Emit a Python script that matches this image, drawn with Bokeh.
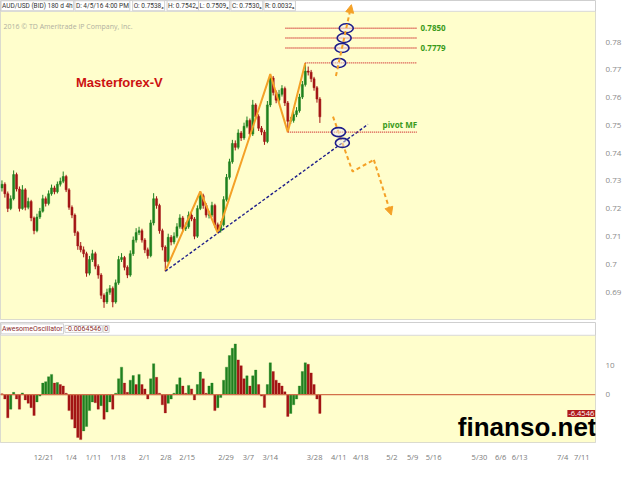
import numpy as np
from bokeh.plotting import figure
from bokeh.layouts import column
from bokeh.models import (ColumnDataSource, Range1d, FixedTicker, NumeralTickFormatter,
                          Span, Label, BoxAnnotation, Arrow, NormalHead)
from bokeh.embed import file_html
from bokeh.resources import INLINE

# ---------------- data ----------------
first_open = 0.7275
closes = [0.7288,0.7254,0.7201,0.7236,0.7323,0.7271,0.7201,0.7268,0.7205,0.7226,
          0.7167,0.7121,0.7170,0.7191,0.7236,0.7219,0.7254,0.7275,0.7261,0.7288,
          0.7299,0.7316,0.7268,0.7205,0.7177,0.7114,0.7066,0.7052,0.7038,0.6968,
          0.7017,0.7038,0.6993,0.6961,0.6888,0.6864,0.6899,0.6913,0.6864,0.6933,
          0.7017,0.7024,0.6989,0.6961,0.7038,0.7087,0.7114,0.7121,0.7087,0.7052,
          0.7031,0.7149,0.7236,0.7212,0.7121,0.7062,0.7010,0.7097,0.7080,0.7101,
          0.7135,0.7167,0.7128,0.7135,0.7177,0.7163,0.7101,0.7201,0.7247,0.7212,
          0.7177,0.7177,0.7212,0.7142,0.7121,0.7142,0.7233,0.7313,0.7369,0.7435,
          0.7421,0.7473,0.7455,0.7497,0.7518,0.7469,0.7574,0.7532,0.7490,0.7476,
          0.7442,0.7574,0.7671,0.7619,0.7591,0.7612,0.7633,0.7581,0.7515,0.7518,
          0.7539,0.7553,0.7602,0.7647,0.7696,0.7692,0.7668,0.7636,0.7595,0.7531]
highs = [0.7302,0.7295,0.7262,0.7248,0.7338,0.7330,0.7280,0.7285,0.7274,0.7240,
         0.7232,0.7172,0.7182,0.7203,0.7250,0.7244,0.7266,0.7287,0.7283,0.7298,
         0.7312,0.7334,0.7322,0.7274,0.7212,0.7183,0.7120,0.7080,0.7064,0.7045,
         0.7030,0.7052,0.7045,0.7000,0.6968,0.6895,0.6912,0.6925,0.6920,0.6945,
         0.7030,0.7040,0.7030,0.6996,0.7050,0.7100,0.7130,0.7135,0.7128,0.7094,
         0.7060,0.7160,0.7256,0.7245,0.7218,0.7128,0.7068,0.7110,0.7105,0.7115,
         0.7148,0.7180,0.7174,0.7150,0.7190,0.7185,0.7170,0.7212,0.7262,0.7254,
         0.7220,0.7192,0.7225,0.7218,0.7150,0.7155,0.7245,0.7325,0.7380,0.7448,
         0.7446,0.7486,0.7480,0.7510,0.7532,0.7525,0.7592,0.7580,0.7540,0.7498,
         0.7484,0.7588,0.7685,0.7678,0.7626,0.7628,0.7645,0.7640,0.7588,0.7530,
         0.7550,0.7566,0.7614,0.7660,0.7725,0.7712,0.7700,0.7675,0.7642,0.7602]
lows = [0.7262,0.7240,0.7188,0.7195,0.7230,0.7262,0.7190,0.7196,0.7194,0.7198,
        0.7155,0.7108,0.7115,0.7163,0.7186,0.7208,0.7212,0.7247,0.7252,0.7255,
        0.7280,0.7292,0.7260,0.7196,0.7166,0.7102,0.7052,0.7043,0.7025,0.6955,
        0.6960,0.7008,0.6982,0.6948,0.6875,0.6843,0.6857,0.6890,0.6845,0.6858,
        0.6926,0.7008,0.6978,0.6950,0.6955,0.7030,0.7078,0.7105,0.7078,0.7040,
        0.7020,0.7025,0.7140,0.7200,0.7110,0.7050,0.6975,0.7003,0.7068,0.7072,
        0.7094,0.7128,0.7118,0.7120,0.7128,0.7155,0.7090,0.7095,0.7195,0.7200,
        0.7168,0.7165,0.7170,0.7132,0.7112,0.7114,0.7136,0.7226,0.7305,0.7362,
        0.7410,0.7414,0.7444,0.7448,0.7490,0.7460,0.7462,0.7522,0.7480,0.7465,
        0.7430,0.7436,0.7566,0.7608,0.7580,0.7584,0.7604,0.7570,0.7476,0.7505,
        0.7510,0.7530,0.7546,0.7595,0.7640,0.7680,0.7656,0.7625,0.7582,0.7509]
ao = [0.3,-1.5,-8.0,-5.0,0.8,-1.5,-5.0,0.6,-1.8,-3.0,
      -4.5,-7.2,-2.5,-0.5,4.0,4.5,6.2,7.0,4.0,4.2,
      3.5,3.0,0.5,-5.5,-8.5,-11.5,-14.8,-15.5,-12.5,-11.0,
      -5.5,-2.5,-2.8,-5.0,-3.8,-8.5,-6.0,-2.5,-5.0,0.5,
      5.5,9.5,4.0,0.8,5.0,6.6,3.5,7.0,3.5,2.0,
      -1.5,5.5,10.7,6.0,0.5,-3.5,-6.3,-3.0,-1.5,0.5,
      3.5,5.8,3.0,0.5,3.2,2.0,-1.8,3.5,7.8,5.5,
      0.5,3.0,4.0,-5.5,-4.5,-1.0,5.0,9.5,13.5,16.0,
      17.5,12.0,10.0,5.5,6.5,3.0,6.5,8.5,3.5,-0.5,
      -4.4,3.5,11.0,8.0,5.0,4.0,3.0,1.0,-7.5,-6.5,
      -3.5,-1.5,3.0,8.0,11.0,10.5,7.5,3.5,-1.5,-6.4546]

date_tick_pos = [14.3, 23.7, 31.4, 39.7, 48.8, 56.2, 63.5, 76.8, 84.5, 92.0, 107.2,
                 115.5, 123.0, 133.7, 140.8, 148.0, 163.7, 171.0, 177.5, 192.2, 198.8]
date_tick_labels = ["12/21", "1/4", "1/11", "1/18", "2/1", "2/8", "2/15", "2/29", "3/7", "3/14",
                    "3/28", "4/11", "4/18", "5/2", "5/9", "5/16", "5/30", "6/6", "6/13", "7/4", "7/11"]
price_ticks = [0.68, 0.69, 0.70, 0.71, 0.72, 0.73, 0.74, 0.75, 0.76, 0.77, 0.78]
ao_ticks = [0, 10]

# target levels (fibo style) and labels
target_levels = [0.7850, 0.7815, 0.7779]
target_labels = ["0.7850", "", "0.7779"]
# zigzag pivot bars (L = low, H = high)
zz_idx = [56, 68, 74, 92, 98, 104]
zz_kind = ["L", "H", "L", "H", "L", "H"]
# projected paths
up_proj_x = [114.5, 119.8]
up_proj_y = [0.7678, 0.7935]
down_proj_x = [113.5, 120.2, 127.5, 133.5]
down_proj_y = [0.7532, 0.7334, 0.7376, 0.7177]
trend_end_x = 125.5
level_end_x = 142.2
level_start_x = 97.2

header_main = ["AUD/USD (BID) 180 d 4h", "D: 4/5/16 4:00 PM", "O: 0.7538\u2083", "H: 0.7542\u2082",
               "L: 0.7509\u2086", "C: 0.7530\u2086", "R: 0.0032\u2086"]
header_ao = ["AwesomeOscillator", "-0.0064546", "0"]

# ---------------- styles ----------------
YELLOW = "#FFFECC"
GREEN = "#1F801F"
RED = "#A31515"
ORANGE = "#F4A127"
NAVY = "#1E1E8A"
DOTRED = "#D03030"
LBLGREEN = "#3A9A1A"
FONT = "Open Sans"
HFONT = "Roboto"

n = len(closes)
idx = np.arange(n)
opens = [first_open] + closes[:-1]
cand_col = [GREEN if c >= o else RED for o, c in zip(opens, closes)]
src = ColumnDataSource(dict(x=idx, h=highs, l=lows,
                            top=[max(o, c) for o, c in zip(opens, closes)],
                            bottom=[min(o, c) for o, c in zip(opens, closes)],
                            color=cand_col))

xr = Range1d(-0.5, 203.5)

p = figure(width=624, height=322, x_range=xr, y_range=Range1d(0.6801, 0.7950),
           output_backend="svg", toolbar_location=None, x_axis_location=None,
           y_axis_location="right", min_border_left=0, min_border_right=26,
           min_border_top=0, min_border_bottom=3, background_fill_color="white",
           border_fill_color="white", outline_line_color="#cfcfcf")
p.grid.visible = False
p.add_layout(BoxAnnotation(top=0.7911, fill_color=YELLOW, fill_alpha=1.0,
                           line_color=None, level="underlay"))
p.add_layout(Span(location=0.7911, dimension="width", line_color="#d8d8d8", line_width=1))

ya = p.yaxis[0]
ya.ticker = FixedTicker(ticks=price_ticks)
ya.formatter = NumeralTickFormatter(format="0.[00]")
ya.axis_line_color = None
ya.major_tick_line_color = None
ya.minor_tick_line_color = None
ya.major_label_text_color = "#8a8a8a"
ya.major_label_text_font_size = "8px"
ya.major_label_text_font = FONT
ya.major_label_standoff = 4

# candles
p.segment(x0="x", y0="h", x1="x", y1="l", color="color", line_width=1, source=src)
p.vbar(x="x", top="top", bottom="bottom", width=0.7, fill_color="color",
       line_color="color", line_width=0.5, source=src)

# zigzag
zz_y = [lows[i] if k == "L" else highs[i] for i, k in zip(zz_idx, zz_kind)]
p.line(zz_idx, zz_y, line_color=ORANGE, line_width=2)

# trend line through the two lows
x0, y0 = zz_idx[0], zz_y[0]
slope = (zz_y[2] - zz_y[0]) / (zz_idx[2] - zz_idx[0])
p.line([x0, trend_end_x], [y0, y0 + slope * (trend_end_x - x0)],
       line_color=NAVY, line_width=1.4, line_dash="3 2")

# horizontal levels
top_level = highs[zz_idx[5]]
pivot_level = lows[zz_idx[4]]
for lv in target_levels:
    p.line([level_start_x, level_end_x], [lv, lv], line_color=DOTRED, line_width=1.3, line_dash="1 1")
p.line([zz_idx[5], level_end_x], [top_level, top_level], line_color=DOTRED, line_width=1.3, line_dash="1 1")
p.line([zz_idx[4], level_end_x], [pivot_level, pivot_level], line_color=DOTRED, line_width=1.3, line_dash="1 1")

for lv, lb in zip(target_levels, target_labels):
    if lb:
        p.add_layout(Label(x=level_end_x + 1.3, y=lv, text=lb, text_color=LBLGREEN,
                           text_font_size="8px", text_font_style="bold", text_font=FONT,
                           text_baseline="middle"))
p.add_layout(Label(x=130.5, y=pivot_level + 0.0028, text="pivot MF", text_color=LBLGREEN,
                   text_font_size="8px", text_font_style="bold", text_font=FONT,
                   text_baseline="middle"))

# projections
p.add_layout(Arrow(end=NormalHead(size=8, fill_color=ORANGE, line_color=ORANGE),
                   x_start=up_proj_x[0], y_start=up_proj_y[0], x_end=up_proj_x[1], y_end=up_proj_y[1],
                   line_color=ORANGE, line_width=2, line_dash="4 3"))
p.line(down_proj_x[:-1], down_proj_y[:-1], line_color=ORANGE, line_width=2, line_dash="4 3")
p.add_layout(Arrow(end=NormalHead(size=8, fill_color=ORANGE, line_color=ORANGE),
                   x_start=down_proj_x[-2], y_start=down_proj_y[-2], x_end=down_proj_x[-1], y_end=down_proj_y[-1],
                   line_color=ORANGE, line_width=2, line_dash="4 3"))

# ellipses at crossings
def x_on(xa, ya_, xb, yb, y):
    return xa + (y - ya_) / (yb - ya_) * (xb - xa)

ex, ey = [], []
for lv in target_levels + [top_level]:
    ex.append(x_on(up_proj_x[0], up_proj_y[0], up_proj_x[1], up_proj_y[1], lv)); ey.append(lv)
ex.append(x_on(down_proj_x[0], down_proj_y[0], down_proj_x[1], down_proj_y[1], pivot_level)); ey.append(pivot_level)
s2 = (down_proj_y[1] - down_proj_y[0]) / (down_proj_x[1] - down_proj_x[0])
xi = (down_proj_y[0] - s2 * down_proj_x[0] - y0 + slope * x0) / (slope - s2)
ex.append(xi); ey.append(y0 + slope * (xi - x0))
p.ellipse(x=ex, y=ey, width=14, height=9, width_units="screen", height_units="screen",
          fill_color="#EEF0FA", fill_alpha=0.45, line_color=NAVY, line_width=1.6)

# texts
p.add_layout(Label(x=25.4, y=0.7654, text="Masterforex-V", text_color="#CC1111",
                   text_font_size="13px", text_font_style="bold", text_font="Liberation Sans",
                   text_baseline="middle"))
p.add_layout(Label(x=0.5, y=0.7856, text="2016 \u00a9 TD Ameritrade IP Company, Inc.",
                   text_color="#b0b0a0", text_font_size="7px", text_font=FONT, text_baseline="middle"))
hx = [-0.3, 25.0, 44.8, 56.6, 67.4, 78.5, 89.8]
for x, t in zip(hx, header_main):
    p.add_layout(Label(x=x, y=0.7931, text=t, text_color="#333333", text_font_size="6.5px",
                       text_font=HFONT, text_baseline="middle", border_line_color="#d0d0d0",
                       background_fill_color="white", padding=1))

# ---------------- oscillator ----------------
q = figure(width=624, height=142, x_range=xr, y_range=Range1d(-16.5, 24.9),
           output_backend="svg", toolbar_location=None, x_axis_location="below",
           y_axis_location="right", min_border_left=0, min_border_right=26,
           min_border_top=0, min_border_bottom=14, background_fill_color="white",
           border_fill_color="white", outline_line_color="#cfcfcf")
q.grid.visible = False
q.add_layout(BoxAnnotation(top=20.5, fill_color=YELLOW, fill_alpha=1.0, line_color=None, level="underlay"))
q.add_layout(Span(location=20.5, dimension="width", line_color="#d8d8d8", line_width=1))

ao_col = [GREEN if (i > 0 and ao[i] > ao[i - 1]) else RED for i in range(n)]
q.vbar(x=idx, top=ao, bottom=0, width=0.8, fill_color=ao_col, line_color=ao_col, line_width=0.3)
q.add_layout(Span(location=0, dimension="width", line_color="#D2704A", line_width=1.2))

qy = q.yaxis[0]
qy.ticker = FixedTicker(ticks=ao_ticks)
qy.axis_line_color = None
qy.major_tick_line_color = None
qy.minor_tick_line_color = None
qy.major_label_text_color = "#8a8a8a"
qy.major_label_text_font_size = "8px"
qy.major_label_text_font = FONT
qy.major_label_standoff = 4

qx = q.xaxis[0]
qx.ticker = FixedTicker(ticks=date_tick_pos)
qx.major_label_overrides = {float(k): v for k, v in zip(date_tick_pos, date_tick_labels)}
qx.axis_line_color = None
qx.major_tick_line_color = None
qx.minor_tick_line_color = None
qx.major_label_text_color = "#7a7a7a"
qx.major_label_text_font_size = "7.5px"
qx.major_label_text_font = FONT
qx.major_label_standoff = 3

ax_hx = [-0.3, 21.6, 34.7]
for x, t in zip(ax_hx, header_ao):
    q.add_layout(Label(x=x, y=22.7, text=t, text_color="#8B2E2E", text_font_size="7px",
                       text_font=HFONT, text_baseline="middle", border_line_color="#d0d0d0",
                       background_fill_color="white", padding=1))

q.add_layout(Label(x=203.4, y=ao[-1], text="%.4f" % ao[-1], text_color="white",
                   text_font_size="7.5px", text_font=FONT, text_baseline="middle", text_align="right",
                   background_fill_color="#B01C1C", padding=1))
q.add_layout(Label(x=156.3, y=-16.3, text="finanso.net", text_color="black",
                   text_font_size="26px", text_font_style="bold", text_font="Liberation Sans",
                   text_baseline="bottom"))

layout = column(p, q, spacing=0)
open("out.html", "w").write(file_html(layout, INLINE))
